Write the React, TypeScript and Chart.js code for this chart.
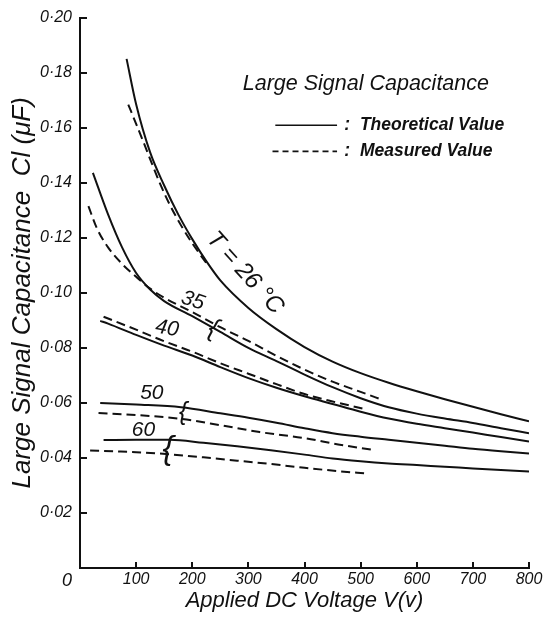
import React, { useEffect, useRef } from 'react';
import { Chart, registerables } from 'chart.js';

Chart.register(...registerables);

// Applied DC voltage (V) and large-signal capacitance (μF) for each temperature.
// Solid = theoretical value, dashed = measured value.
const theory26V = [83, 100, 125, 150, 175, 200, 225, 250, 300, 350, 400, 450, 500, 550, 600, 650, 700, 750, 800];
const theory26C = [0.185, 0.1685, 0.151, 0.139, 0.1285, 0.1195, 0.1115, 0.1045, 0.0945, 0.0868, 0.0803, 0.075, 0.0708, 0.0673, 0.0642, 0.0613, 0.0586, 0.0559, 0.0533];
const measured26V = [86, 100, 113, 128, 143, 160, 180, 200, 225];
const measured26C = [0.1684, 0.1614, 0.1548, 0.147, 0.1395, 0.132, 0.1245, 0.118, 0.1108];

const theory35V = [23, 50, 75, 100, 125, 150, 200, 250, 300, 350, 400, 450, 500, 550, 600, 650, 700, 750, 800];
const theory35C = [0.1436, 0.1285, 0.1165, 0.1072, 0.1012, 0.097, 0.0915, 0.0858, 0.08, 0.0752, 0.0703, 0.0657, 0.0617, 0.0584, 0.0561, 0.0543, 0.0527, 0.0508, 0.049];
const measured35V = [15, 30, 50, 75, 100, 125, 150, 200, 250, 300, 350, 400, 450, 500, 540];
const measured35C = [0.1315, 0.1235, 0.1165, 0.1105, 0.1058, 0.1015, 0.0982, 0.093, 0.0875, 0.0825, 0.0771, 0.0721, 0.0677, 0.064, 0.061];

const theory40V = [36, 50, 100, 150, 200, 250, 300, 350, 400, 450, 500, 550, 600, 650, 700, 750, 800];
const theory40C = [0.0898, 0.0888, 0.0847, 0.0808, 0.0772, 0.073, 0.069, 0.0655, 0.0624, 0.0596, 0.0568, 0.0543, 0.0524, 0.0508, 0.0492, 0.0476, 0.046];
const measured40V = [42, 100, 150, 200, 250, 300, 350, 400, 450, 505];
const measured40C = [0.0913, 0.0866, 0.0824, 0.0786, 0.0744, 0.0706, 0.0668, 0.0632, 0.0605, 0.0579];

const theory50V = [36, 100, 180, 250, 300, 350, 400, 450, 500, 550, 600, 650, 700, 750, 800];
const theory50C = [0.06, 0.0594, 0.0584, 0.0562, 0.0546, 0.0528, 0.0508, 0.049, 0.0477, 0.0466, 0.0455, 0.0444, 0.0433, 0.0424, 0.0416];
const measured50V = [33, 100, 180, 250, 320, 400, 460, 520];
const measured50C = [0.0563, 0.0556, 0.0542, 0.0519, 0.0494, 0.0472, 0.0449, 0.043];

const theory60V = [42, 100, 160, 220, 280, 340, 400, 450, 500, 550, 600, 650, 700, 750, 800];
const theory60C = [0.0465, 0.0466, 0.0466, 0.0455, 0.0442, 0.0428, 0.0412, 0.0398, 0.0388, 0.038, 0.0374, 0.0368, 0.0362, 0.0356, 0.0351];
const measured60V = [18, 60, 100, 160, 220, 280, 340, 400, 460, 511];
const measured60C = [0.0427, 0.0424, 0.0421, 0.0413, 0.0402, 0.039, 0.0378, 0.0364, 0.0352, 0.0343];

const INK = '#111';
const FONT = '"Liberation Sans", "DejaVu Sans", sans-serif';
const DASH = [9, 5];

const pts = (vs: number[], cs: number[]) => vs.map((v, i) => ({ x: v, y: cs[i] }));

const curve = (label: string, vs: number[], cs: number[], dashed: boolean) => ({
  label,
  data: pts(vs, cs),
  borderColor: INK,
  borderWidth: 2,
  borderDash: dashed ? DASH : [],
  pointRadius: 0,
  fill: false,
  cubicInterpolationMode: 'monotone' as const,
});

const fmtC = (v: number) => v.toFixed(2).replace('.', '·');

// Text and marks drawn on top of the plot: inward ticks, heading, key, curve labels.
const inkPlugin = {
  id: 'ink',
  afterDraw(chart: any) {
    const { ctx, chartArea, scales } = chart;
    const xs = scales.x;
    const ys = scales.y;
    const px = (v: number) => xs.getPixelForValue(v);
    const py = (c: number) => ys.getPixelForValue(c);
    ctx.save();
    ctx.strokeStyle = INK;
    ctx.fillStyle = INK;
    ctx.lineWidth = 2;

    // inward tick marks
    ctx.beginPath();
    ys.ticks.forEach((t: any) => {
      if (t.value <= 0) return;
      const y = Math.round(py(t.value));
      ctx.moveTo(chartArea.left, y);
      ctx.lineTo(chartArea.left + 7, y);
    });
    xs.ticks.forEach((t: any) => {
      if (t.value <= 0) return;
      const x = Math.round(px(t.value));
      ctx.moveTo(x, chartArea.bottom);
      ctx.lineTo(x, chartArea.bottom - 6);
    });
    ctx.stroke();

    // origin label
    ctx.font = `italic 18px ${FONT}`;
    ctx.textAlign = 'center';
    ctx.textBaseline = 'middle';
    ctx.fillText('0', px(0) - 13, chartArea.bottom + 13);

    // heading and key
    ctx.textAlign = 'left';
    ctx.font = `italic 21.5px ${FONT}`;
    ctx.fillText('Large Signal Capacitance', px(290), py(0.176));

    ctx.lineWidth = 1.6;
    ctx.beginPath();
    ctx.moveTo(px(348), py(0.1609));
    ctx.lineTo(px(458), py(0.1609));
    ctx.stroke();
    ctx.setLineDash([6, 4]);
    ctx.beginPath();
    ctx.moveTo(px(343), py(0.1514));
    ctx.lineTo(px(458), py(0.1514));
    ctx.stroke();
    ctx.setLineDash([]);

    ctx.font = `italic bold 17.5px ${FONT}`;
    ctx.fillText(':  Theoretical Value', px(471), py(0.1609));
    ctx.fillText(':  Measured Value', px(471), py(0.1514));

    // curve labels
    const label = (text: string, v: number, c: number, size: number, deg: number) => {
      ctx.save();
      ctx.translate(px(v), py(c));
      ctx.rotate((deg * Math.PI) / 180);
      ctx.font = `italic ${size}px ${FONT}`;
      ctx.textAlign = 'center';
      ctx.textBaseline = 'middle';
      ctx.fillText(text, 0, 0);
      ctx.restore();
    };
    label('T = 26 °C', 294, 0.1072, 24, 48);
    label('35', 201, 0.0971, 21, 18);
    label('40', 155, 0.087, 21, 10);
    label('50', 128, 0.0635, 21, 0);
    label('60', 113, 0.05, 21, 0);
    // braces tying each measured curve to its theoretical one
    label('{', 237, 0.0868, 26, 18);
    label('{', 184, 0.0562, 25, 0);
    label('{', 157, 0.043, 33, 0);

    ctx.restore();
  },
};

export default function App() {
  const ref = useRef<HTMLCanvasElement | null>(null);

  useEffect(() => {
    if (!ref.current) return;
    const chart = new Chart(ref.current, {
      type: 'line',
      data: {
        datasets: [
          curve('26 °C theoretical', theory26V, theory26C, false),
          curve('26 °C measured', measured26V, measured26C, true),
          curve('35 °C theoretical', theory35V, theory35C, false),
          curve('35 °C measured', measured35V, measured35C, true),
          curve('40 °C theoretical', theory40V, theory40C, false),
          curve('40 °C measured', measured40V, measured40C, true),
          curve('50 °C theoretical', theory50V, theory50C, false),
          curve('50 °C measured', measured50V, measured50C, true),
          curve('60 °C theoretical', theory60V, theory60C, false),
          curve('60 °C measured', measured60V, measured60C, true),
        ],
      },
      options: {
        responsive: false,
        animation: false,
        layout: { padding: { top: 16, right: 25, left: 0, bottom: 0 } },
        plugins: { legend: { display: false }, tooltip: { enabled: false }, title: { display: false } },
        scales: {
          x: {
            type: 'linear',
            min: 0,
            max: 800,
            grid: { display: false, drawTicks: false },
            border: { display: true, color: INK, width: 2 },
            ticks: {
              stepSize: 100,
              padding: 2,
              color: INK,
              font: { family: FONT, size: 16, style: 'italic' },
              callback: (v: any) => (Number(v) === 0 ? '' : String(v)),
            },
            title: {
              display: true,
              text: 'Applied DC Voltage V(v)',
              color: INK,
              font: { family: FONT, size: 22, style: 'italic' },
              padding: { top: 0, bottom: 13 },
            },
            afterFit: (s: any) => {
              s.height = 59;
            },
          },
          y: {
            type: 'linear',
            min: 0,
            max: 0.2,
            grid: { display: false, drawTicks: false },
            border: { display: true, color: INK, width: 2 },
            ticks: {
              stepSize: 0.02,
              padding: 8,
              color: INK,
              font: { family: FONT, size: 16, style: 'italic' },
              callback: (v: any) => (Number(v) <= 0 ? '' : fmtC(Number(v))),
            },
            title: {
              display: true,
              text: 'Large Signal Capacitance  Cl (μF)',
              color: INK,
              font: { family: FONT, size: 26, style: 'italic' },
              padding: { top: 7, bottom: 0 },
            },
            afterFit: (s: any) => {
              s.width = 80;
            },
          },
        },
      },
      plugins: [inkPlugin],
    });
    return () => chart.destroy();
  }, []);

  return (
    <div style={{ position: 'fixed', left: 0, top: 0, width: 554, height: 627, background: '#fff' }}>
      <canvas ref={ref} width={554} height={627} style={{ display: 'block' }} />
    </div>
  );
}
